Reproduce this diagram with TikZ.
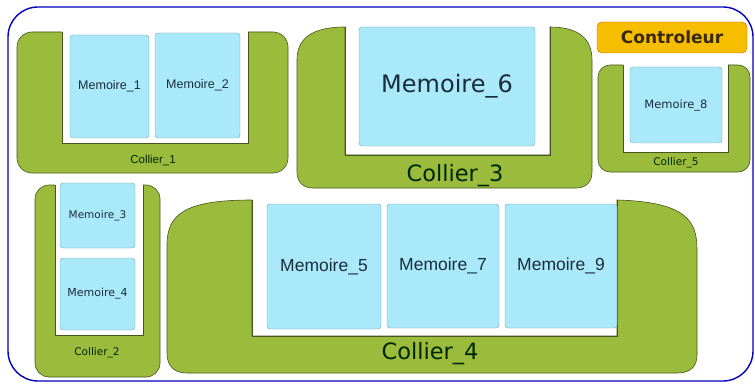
\documentclass[tikz,border=0pt]{standalone}
\usepackage{fontspec}
\usepackage{xcolor}
\usepackage{tikz}
\setmainfont{Liberation Sans}
\newfontfamily\dejavu{DejaVu Sans}
\definecolor{vert}{RGB}{155,187,60}
\definecolor{vertfonce}{RGB}{70,85,30}
\definecolor{ciel}{RGB}{170,233,250}
\definecolor{cielbord}{RGB}{125,160,175}
\definecolor{jaune}{RGB}{247,190,0}
\definecolor{encre}{RGB}{25,45,60}
\definecolor{brun}{RGB}{55,40,15}

\begin{document}
\begin{tikzpicture}[x=1pt,y=-1pt,
	frame/.style={draw=blue!75!black,line width=1.4pt,rounded corners=30pt,fill=white},
	collier/.style={draw=vertfonce,fill=vert,line width=0.6pt},
	notch/.style={draw=vertfonce,line width=0.8pt},
	memoire/.style={draw=cielbord,fill=ciel,rounded corners=3pt,inner sep=0pt,text=encre},
	lab/.style={text=black!85!green},
	fA/.style={font=\fontsize{#1}{#1}\selectfont},
	fB/.style={font=\dejavu\fontsize{#1}{#1}\selectfont}]
	\useasboundingbox (0,0) rectangle (755,385);
	\draw[frame] (8,7) rectangle (753,381);
	\draw[collier,rounded corners=15pt] (17,32) rectangle (288,173);
	\fill[white] (62,31) rectangle (248,143);
	\draw[notch] (62,32) -- (62,143) -- (248,143) -- (248,32);
	\draw[collier,rounded corners=14pt] (35,185) rectangle (160,377);
	\fill[white] (55,184) rectangle (143,335);
	\draw[notch] (55,185) -- (55,335) -- (143,335) -- (143,185);
	\draw[collier] (345,27) -- (345,155) -- (550,155) -- (550,27)
		.. controls (580,27) and (592,40) .. (592,60) -- (592,172)
		.. controls (592,182) and (586,188) .. (576,188) -- (313,188)
		.. controls (303,188) and (297,182) .. (297,172) -- (297,60)
		.. controls (297,40) and (310,27) .. (345,27);
	\fill[white] (346,27) rectangle (549,154);
	\draw[notch] (345,27) -- (345,155) -- (550,155) -- (550,27);
	\draw[collier] (252,200) -- (252,336) -- (617,336) -- (617,200)
		.. controls (688,202) and (697,222) .. (697,250) -- (697,355)
		.. controls (697,367) and (690,373) .. (677,373) -- (187,373)
		.. controls (174,373) and (167,366) .. (167,353) -- (167,245)
		.. controls (167,214) and (185,200) .. (252,200);
	\fill[white] (253,200) rectangle (616,335);
	\draw[notch] (252,200) -- (252,336) -- (617,336) -- (617,200);
	\draw[collier,rounded corners=12pt] (598,65) rectangle (750,172);
	\fill[white] (623,64) rectangle (728,152);
	\draw[notch] (623,65) -- (623,152) -- (728,152) -- (728,65);
	\node[memoire,fA=12.5,minimum width=79pt,minimum height=103pt] (m1) at (109.5,86.5) {Memoire\_1};
	\node[memoire,fA=12.5,minimum width=85pt,minimum height=105pt] (m2) at (197.5,85.5) {Memoire\_2};
	\node[memoire,fB=10.5,minimum width=75pt,minimum height=65pt] (m3) at (97.5,215.5) {Memoire\_3};
	\node[memoire,fB=11,minimum width=75pt,minimum height=72pt] (m4) at (97.5,294) {Memoire\_4};
	\node[memoire,fA=17.5,minimum width=114pt,minimum height=125pt] (m5) at (324,266.5) {Memoire\_5};
	\node[memoire,fB=24,minimum width=176pt,minimum height=119pt] (m6) at (447,86.5) {Memoire\_6};
	\node[memoire,fA=17.5,minimum width=112pt,minimum height=124pt] (m7) at (443,266) {Memoire\_7};
	\node[memoire,fB=11.5,minimum width=92pt,minimum height=76pt] (m8) at (676,105) {Memoire\_8};
	\node[memoire,fA=17.5,minimum width=112pt,minimum height=124pt] (m9) at (561,266) {Memoire\_9};
	\node[draw=orange!80!black,fill=jaune,rounded corners=5pt,minimum width=150pt,minimum height=31pt,fB=17,text=brun] (ctrl) at (672,37.5) {\bfseries Controleur};
	\node[lab,fA=11.5] (c1) at (153,160) {Collier\_1};
	\node[lab,fB=10.5] (c2) at (97,353) {Collier\_2};
	\node[lab,fB=22.5] (c3) at (455,176) {Collier\_3};
	\node[lab,fB=22.5] (c4) at (430,354) {Collier\_4};
	\node[lab,fB=10.5] (c5) at (676,163) {Collier\_5};
\end{tikzpicture}
\end{document}
